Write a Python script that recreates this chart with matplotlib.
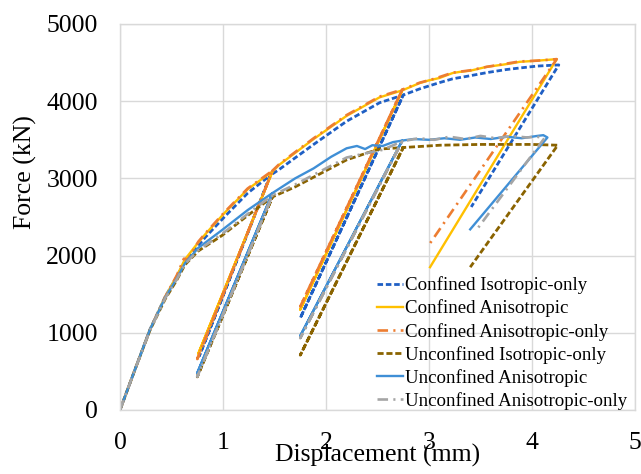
import matplotlib
matplotlib.use("Agg")
import matplotlib.pyplot as plt

plt.rcParams['font.family'] = ['Liberation Serif', 'DejaVu Serif']

# ---- data (displacement mm, force kN) ----
ci_x = [0, 0.15, 0.29, 0.44, 0.55, 0.63, 0.76, 0.83, 1.02, 1.24, 1.46, 0.77, 1.46, 1.55, 1.88, 2.20, 2.52, 2.75, 1.75, 2.75,
        2.91, 3.10, 3.23, 3.40, 3.56, 3.75, 3.88, 4.05, 4.26, 3.41]
ci_y = [0, 540, 1040, 1470, 1720, 1930, 2130, 2240, 2510, 2810, 3040, 700, 3040, 3120, 3440, 3740, 3980, 4080, 1190, 4080,
        4160, 4240, 4290, 4330, 4370, 4410, 4430, 4455, 4470, 2630]

ca_x = [0, 0.15, 0.29, 0.44, 0.55, 0.63, 0.76, 0.83, 1.02, 1.24, 1.48, 0.76, 1.48, 1.55, 1.88, 2.20, 2.52, 2.74, 1.75, 2.74,
        2.91, 3.00, 3.10, 3.23, 3.30, 3.40, 3.56, 3.70, 3.80, 3.88, 4.00, 4.10, 4.24, 3.01]
ca_y = [0, 540, 1040, 1470, 1730, 1950, 2170, 2280, 2560, 2860, 3090, 730, 3090, 3180, 3510, 3810, 4050, 4140, 1300, 4140,
        4235, 4270, 4300, 4365, 4380, 4395, 4445, 4470, 4490, 4510, 4520, 4530, 4545, 1850]

cao_x = [0, 0.15, 0.29, 0.44, 0.55, 0.62, 0.66, 0.76, 0.83, 1.02, 1.24, 1.48, 0.75, 1.48, 1.55, 1.88, 2.20, 2.52, 2.74, 1.75, 2.74,
         2.91, 3.05, 3.23, 3.40, 3.56, 3.72, 3.88, 4.05, 4.24, 3.00]
cao_y = [0, 540, 1040, 1470, 1740, 1960, 1950, 2180, 2290, 2570, 2870, 3100, 660, 3100, 3190, 3520, 3820, 4060, 4150, 1340, 4150,
         4240, 4290, 4370, 4400, 4445, 4480, 4515, 4525, 4545, 2140]

ui_x = [0, 0.15, 0.29, 0.44, 0.55, 0.63, 0.76, 0.99, 1.24, 1.48, 0.75, 1.48, 1.70, 2.00, 2.20, 2.40, 2.52, 2.75, 1.75, 2.75,
        3.11, 3.50, 4.00, 4.25, 3.40]
ui_y = [0, 540, 1030, 1440, 1680, 1880, 2060, 2260, 2520, 2760, 430, 2760, 2890, 3100, 3240, 3330, 3380, 3400, 710, 3400,
        3430, 3440, 3440, 3430, 1850]

ua_x = [0, 0.15, 0.29, 0.44, 0.55, 0.63, 0.76, 0.99, 1.24, 1.48, 0.75, 1.48, 1.70, 1.88, 2.05, 2.20, 2.30, 2.38, 2.45, 2.55,
        2.65, 2.74, 1.75, 2.74, 2.85, 3.00, 3.15, 3.30, 3.45, 3.60, 3.75, 3.90, 4.05, 4.11, 4.15, 3.40]
ua_y = [0, 540, 1040, 1460, 1700, 1900, 2100, 2330, 2590, 2810, 480, 2810, 3000, 3130, 3280, 3390, 3420, 3380, 3430, 3420,
        3470, 3490, 960, 3490, 3510, 3500, 3520, 3500, 3530, 3510, 3540, 3520, 3550, 3560, 3530, 2340]

uao_x = [0, 0.15, 0.29, 0.44, 0.55, 0.63, 0.76, 0.99, 1.24, 1.48, 0.75, 1.48, 1.70, 2.00, 2.20, 2.40, 2.55, 2.74, 1.75, 2.74,
         2.90, 3.05, 3.20, 3.35, 3.50, 3.65, 3.80, 3.95, 4.05, 4.12, 3.46]
uao_y = [0, 540, 1030, 1450, 1690, 1890, 2070, 2280, 2540, 2780, 430, 2780, 2920, 3130, 3270, 3330, 3370, 3480, 930, 3480,
         3520, 3500, 3540, 3510, 3550, 3520, 3550, 3530, 3540, 3520, 2330]

labels = ["Confined Isotropic-only", "Confined Anisotropic", "Confined Anisotropic-only",
          "Unconfined Isotropic-only", "Unconfined Anisotropic", "Unconfined Anisotropic-only"]

x_ticks = [0, 1, 2, 3, 4, 5]
y_ticks = [0, 1000, 2000, 3000, 4000, 5000]

# ---- figure ----
fig = plt.figure(figsize=(6.41, 4.74), dpi=100)
ax = fig.add_axes([120/641, 1-410/474, 515/641, 386/474])

ax.plot(ci_x, ci_y, color="#1f5fc4", lw=2.0, dashes=(2.0, 1.0), label=labels[0])
ax.plot(ca_x, ca_y, color="#ffc000", lw=1.7, label=labels[1])
ax.plot(cao_x, cao_y, color="#ed7d31", lw=1.9, dashes=(4.0, 2.0, 0.8, 2.0), label=labels[2])
ax.plot(ui_x, ui_y, color="#8a6300", lw=2.0, dashes=(2.2, 1.0), label=labels[3])
ax.plot(ua_x, ua_y, color="#3f8fd6", lw=1.7, label=labels[4])
ax.plot(uao_x, uao_y, color="#a5a5a5", lw=1.9, dashes=(4.0, 2.0, 0.8, 2.0), label=labels[5])

ax.set_xlim(0, 5)
ax.set_ylim(0, 5000)
ax.set_xticks(x_ticks)
ax.set_yticks(y_ticks)
ax.grid(True, color="#d9d9d9", lw=1.0)
ax.set_axisbelow(True)
for s in ax.spines.values():
    s.set_color("#d9d9d9")
    s.set_linewidth(1.0)
ax.tick_params(length=0, labelsize=18.5, pad=16)

ax.set_xlabel("Displacement (mm)", fontsize=18.5)
ax.xaxis.set_label_coords(0.5, -0.087)
ax.set_ylabel("Force (kN)", fontsize=18.5)
ax.yaxis.set_label_coords(-0.162, 0.617)

leg = ax.legend(loc="lower left", bbox_to_anchor=(0.499, 0.0), frameon=False,
                fontsize=13.6, handlelength=1.4, handletextpad=0.1,
                labelspacing=0.28, borderpad=0, borderaxespad=0)

fig.savefig("out.png", dpi=100)
